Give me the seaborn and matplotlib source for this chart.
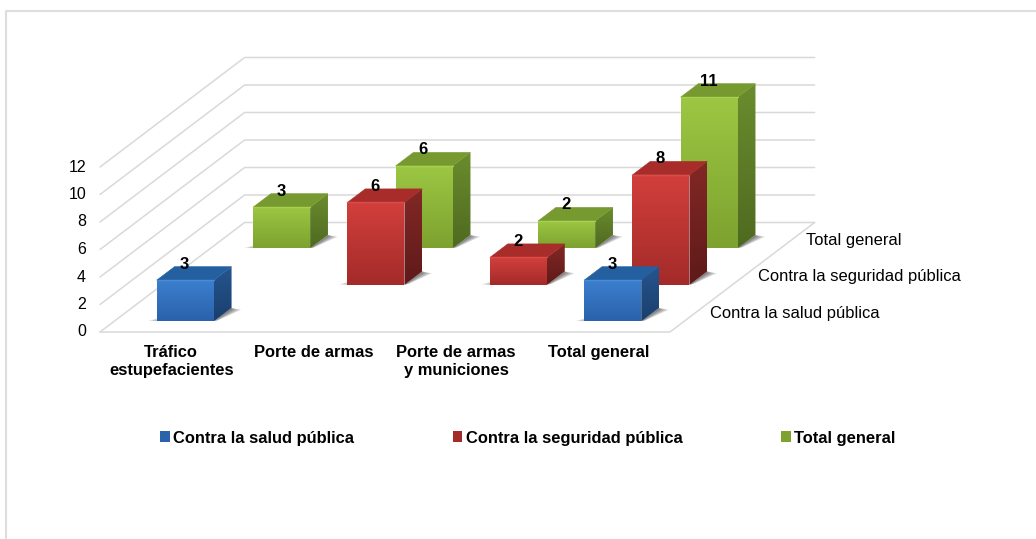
import numpy as np
import pandas as pd
import matplotlib
matplotlib.use('Agg')
import matplotlib.pyplot as plt
import seaborn as sns
from matplotlib.colors import LinearSegmentedColormap
from matplotlib.lines import Line2D
from matplotlib.patches import Patch, Polygon

# data
categories = ['Tráfico\nestupefacientes', 'Porte de armas', 'Porte de armas\ny municiones', 'Total general']
salud = [3, np.nan, np.nan, 3]
seguridad = [np.nan, 6, 2, 8]
total = [3, 6, 2, 11]
y_ticks = [0, 2, 4, 6, 8, 10, 12]
names = ['Contra la salud pública', 'Contra la seguridad pública', 'Total general']

# colours per series: front top/bottom, side top/bottom, top face, rim
styles = [
    dict(front=('#3c80cf', '#2a62ab'), side=('#25558f', '#1b3f6d'), top='#24609f', rim='#4a8ad6'),
    dict(front=('#d23f3c', '#a32b29'), side=('#822826', '#5f1a19'), top='#a82c2a', rim='#dc4d4a'),
    dict(front=('#9cc743', '#7da22f'), side=('#6b8c2e', '#4e6a20'), top='#769a30', rim='#a8d04f'),
]

# oblique projection, per row of depth, in axis units
PX_X = 142.5   # pixels per category
PX_Y = 13.75   # pixels per value
DX = 48.2 / PX_X
DY = 36.5 / PX_Y
BAR_START = 0.29
BAR_DEPTH = 0.37
GRID = '#d9d9d9'


def proj(x, v, d):
    return x + d * DX, v + d * DY


def grad_face(ax, verts, colors, z):
    poly = Polygon(verts, closed=True, facecolor='none', edgecolor='none', transform=ax.transData)
    ax.add_patch(poly)
    poly.set_clip_on(False)
    xs, ys = zip(*verts)
    cmap = LinearSegmentedColormap.from_list('g', colors)
    im = ax.imshow(np.linspace(0, 1, 64)[:, None], extent=[min(xs), max(xs), min(ys), max(ys)],
                   cmap=cmap, aspect='auto', zorder=z)
    im.set_clip_path(poly)
    # images are cut to the axes box otherwise, and the bars run past it
    im.set_clip_box(ax.figure.bbox)


sns.set_theme(style='white')
plt.rcParams['font.family'] = ['Liberation Sans', 'DejaVu Sans']

fig = plt.figure(figsize=(10.36, 5.39), dpi=100)
W, H = 1036, 539
ax = fig.add_axes([100 / W, (H - 332) / H, 570 / W, 165 / H])
ax.patch.set_visible(False)

# walls and floor
for v in y_ticks:
    x0, y0 = proj(-0.5, v, 0)
    x1, y1 = proj(-0.5, v, 3)
    x2, y2 = proj(3.5, v, 3)
    ax.plot([x0, x1, x2], [y0, y1, y2], color=GRID, lw=1.1, clip_on=False, zorder=1)
fx, fy = proj(3.5, 0, 3)
ax.plot([-0.5, 3.5, fx], [0, 0, fy], color=GRID, lw=1.1, clip_on=False, zorder=1)

# bars, back row first
rows = [salud, seguridad, total]
for row in [2, 1, 0]:
    df = pd.DataFrame({'cat': categories, 'val': rows[row]}).dropna()
    sns.barplot(data=df, x='cat', y='val', order=categories, color=styles[row]['front'][0],
                saturation=1, width=0.4, errorbar=None, ax=ax)
    st = styles[row]
    base_z = 10 * (3 - row)
    d0 = row + BAR_START
    d1 = d0 + BAR_DEPTH
    for rect in ax.containers[-1]:
        h = rect.get_height()
        if not h > 0:
            continue
        x0 = rect.get_x()
        x1 = x0 + rect.get_width()
        rect.set_x(x0 + d0 * DX)
        rect.set_y(d0 * DY)
        rect.set_zorder(base_z + 1)
        rect.set_clip_on(False)

        # soft shadow on the floor
        for k in range(1, 5):
            s = k * 3.0 / PX_X
            shadow = [proj(x1, 0, d0), proj(x1 + s * 0.25, 0, d0 + 0.03), proj(x1 + s, 0, d1 - 0.05), proj(x1, 0, d1)]
            ax.add_patch(Polygon(shadow, closed=True, facecolor='#000000', alpha=0.15, edgecolor='none',
                                 clip_on=False, zorder=base_z))
            s = k * 2.4 / PX_X
            sliver = [proj(x0 - s, 0, d0 + 0.01), proj(x0 + 0.02, 0, d0 + 0.01), proj(x0 + 0.02, 0, d0 + 0.08), proj(x0 - s * 0.4, 0, d0 + 0.08)]
            ax.add_patch(Polygon(sliver, closed=True, facecolor='#000000', alpha=0.09, edgecolor='none',
                                 clip_on=False, zorder=base_z))

        front = [proj(x0, 0, d0), proj(x1, 0, d0), proj(x1, h, d0), proj(x0, h, d0)]
        side = [proj(x1, 0, d0), proj(x1, 0, d1), proj(x1, h, d1), proj(x1, h, d0)]
        roof = [proj(x0, h, d0), proj(x1, h, d0), proj(x1, h, d1), proj(x0, h, d1)]
        grad_face(ax, front, st['front'], base_z + 2)
        grad_face(ax, side, st['side'], base_z + 2)
        ax.add_patch(Polygon(roof, closed=True, facecolor=st['top'], edgecolor=st['top'], lw=0.4,
                             clip_on=False, zorder=base_z + 2))
        ax.plot([front[3][0], front[2][0]], [front[3][1], front[2][1]], color=st['rim'], lw=1,
                clip_on=False, zorder=base_z + 3)

        # value label above the bar
        lx, ly = proj((x0 + x1) / 2, h, d1)
        lx -= BAR_DEPTH * DX
        ax.annotate(f'{h:.0f}', (lx, ly), xytext=(-0.5, -3.5), textcoords='offset points', ha='center', va='bottom',
                    fontsize=12, fontweight='bold', color='black', annotation_clip=False, zorder=60)

# labels for the depth axis
for row, name in enumerate(names):
    lx, ly = proj(3.5, 0, row + 0.5)
    ax.annotate(name, (lx, ly), xytext=(11.5, 0.5), textcoords='offset points', ha='left', va='center',
                fontsize=11.85, color='black', annotation_clip=False)

ax.set_xlim(-0.5, 3.5)
ax.set_ylim(0, 12)
ax.set_xticks(range(len(categories)), categories, fontweight='bold', fontsize=11.9, linespacing=1.3)
ax.set_yticks(y_ticks)
ax.tick_params(axis='x', length=0, pad=9.2, colors='black')
ax.tick_params(axis='y', length=0, pad=10, labelsize=11.5, colors='black')
for lab in ax.get_yticklabels():
    lab.set_y(lab.get_position()[1])
    lab.set_verticalalignment('center')
ax.set_xlabel('')
ax.set_ylabel('')
ax.grid(False)
sns.despine(ax=ax, left=True, bottom=True)

handles = [Patch(facecolor=st['front'][1], edgecolor='none') for st in styles]
fig.legend(handles, names, ncol=3, frameon=False, loc='center left',
           bbox_to_anchor=(160 / W, (H - 438) / H), borderpad=0, borderaxespad=0,
           prop=dict(weight='bold', size=11.9), handlelength=0.6, handleheight=0.6,
           handletextpad=0.2, columnspacing=5.95, labelcolor='black')

# chart frame, open on the right and at the bottom
fig.add_artist(Line2D([6 / W, 6 / W, 1], [(H - 538) / H, (H - 11) / H, (H - 11) / H],
                      color='#dedede', lw=1.5, transform=fig.transFigure))

fig.savefig('out.png', dpi=100, facecolor='white')
